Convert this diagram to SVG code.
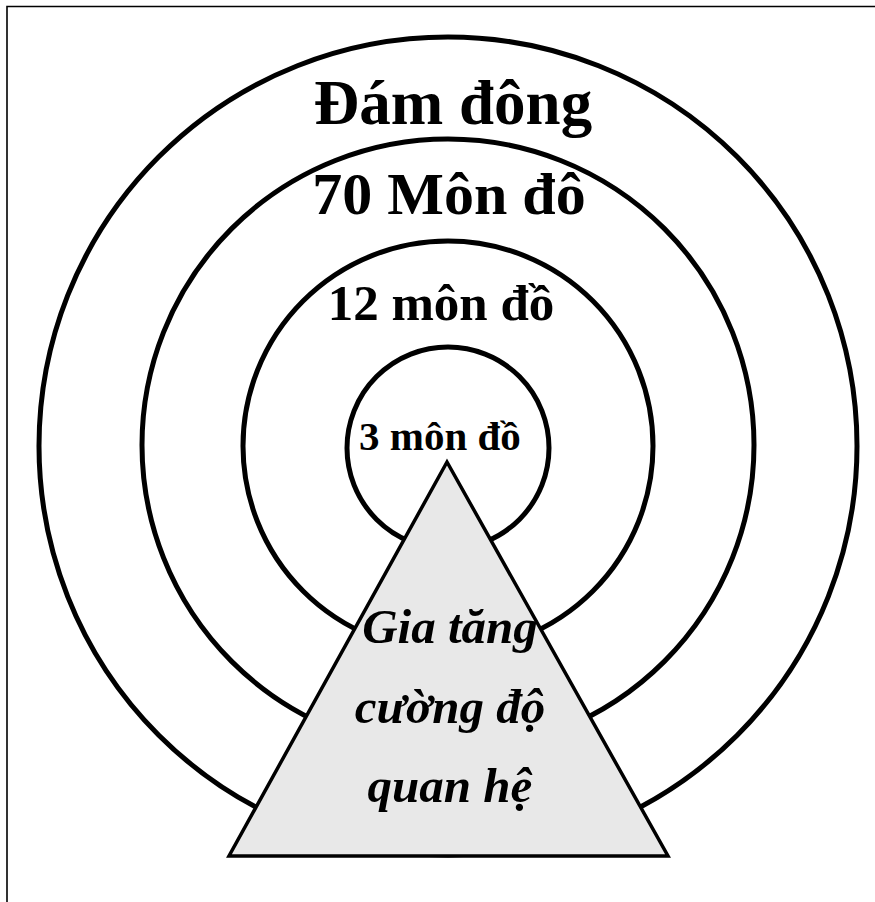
<svg xmlns="http://www.w3.org/2000/svg" width="875" height="902" viewBox="0 0 875 902">
<style>
.ring{fill:none;stroke:#000;stroke-width:5}
.lbl{font-family:"Liberation Serif","Times New Roman",serif;font-weight:bold;fill:#000;text-anchor:middle}
.it{font-style:italic}
</style>
<rect width="875" height="902" fill="#fff"/>
<g id="frame">
<path d="M7 902 V6.5 H875" fill="none" stroke="#000" stroke-width="1.6"/>
</g>
<g id="ring-crowd"><circle class="ring" cx="448" cy="446" r="409"/></g>
<g id="ring-70"><circle class="ring" cx="448" cy="445" r="306"/></g>
<g id="ring-12"><circle class="ring" cx="448" cy="446" r="205"/></g>
<g id="ring-3"><circle class="ring" cx="448" cy="448" r="101"/></g>
<g id="triangle">
<polygon points="447,462 229,856 668,856" fill="#e8e8e8" stroke="#000" stroke-width="3.5" stroke-linejoin="miter"/>
</g>
<g id="labels">
<text class="lbl" x="453" y="124" font-size="63">Đám đông</text>
<text class="lbl" x="449" y="214" font-size="60">70 Môn đô</text>
<text class="lbl" x="441" y="320" font-size="51">12 môn đồ</text>
<text class="lbl" x="440" y="450" font-size="41">3 môn đồ</text>
</g>
<g id="triangle-label">
<text class="lbl it" x="450" y="643" font-size="49">Gia tăng</text>
<text class="lbl it" x="450" y="723" font-size="49">cường độ</text>
<text class="lbl it" x="450" y="802" font-size="49">quan hệ</text>
</g>
</svg>
